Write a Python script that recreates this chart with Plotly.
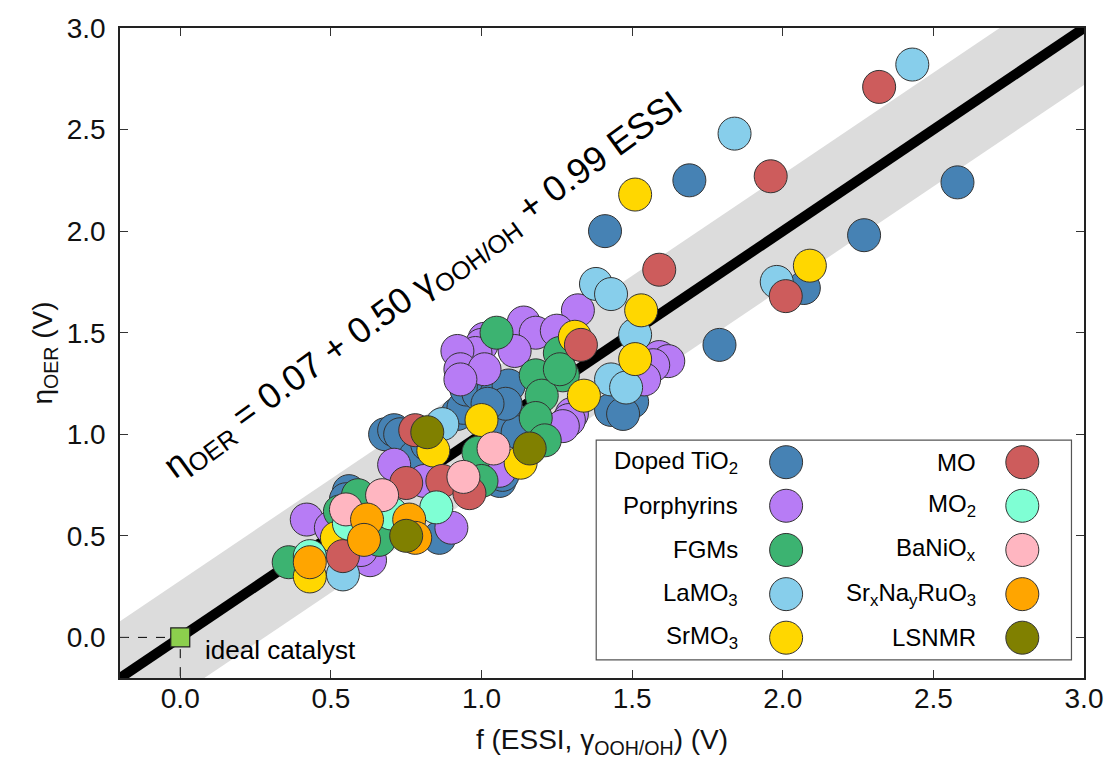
import plotly.graph_objects as go

# ---------------- data ----------------
categories = ["Doped TiO<sub>2</sub>", "Porphyrins", "FGMs", "LaMO<sub>3</sub>", "SrMO<sub>3</sub>",
              "MO", "MO<sub>2</sub>", "BaNiO<sub>x</sub>", "Sr<sub>x</sub>Na<sub>y</sub>RuO<sub>3</sub>", "LSNMR"]
colors = ["#4682B4", "#B77CF5", "#3CB371", "#87CEEB", "#FFD700",
          "#CD5C5C", "#7FFFD4", "#FFB6C1", "#FFA500", "#808000"]

doped_x = [2.58, 1.69, 1.41, 2.27, 2.07, 1.79, 1.43, 1.50, 1.47, 0.68, 0.71, 0.73, 0.92, 0.94, 0.95, 0.99,
           1.04, 1.05, 1.09, 1.10, 1.09, 1.12, 1.08, 1.02, 0.78, 1.06, 1.07, 0.56, 0.55, 0.86, 0.82]
doped_y = [2.24, 2.25, 2.00, 1.98, 1.72, 1.44, 1.12, 1.16, 1.10, 1.00, 1.02, 1.00, 1.10, 1.13, 1.22, 1.20,
           1.22, 1.20, 1.24, 1.08, 1.04, 1.01, 1.15, 1.15, 0.89, 0.77, 0.80, 0.72, 0.68, 0.49, 0.95]

porph_x = [1.32, 1.14, 1.18, 1.25, 1.01, 1.00, 0.98, 0.92, 1.11, 0.93, 1.01, 1.59, 1.62, 1.57, 1.54,
           1.30, 1.29, 1.27, 0.93, 0.71, 0.81, 1.06, 0.42, 0.50, 0.63, 0.90, 0.60]
porph_y = [1.61, 1.55, 1.50, 1.51, 1.47, 1.44, 1.40, 1.41, 1.41, 1.32, 1.32, 1.38, 1.36, 1.34, 1.27,
           1.10, 1.07, 1.04, 1.27, 0.85, 0.77, 0.82, 0.58, 0.54, 0.38, 0.54, 0.43]

fgm_x = [1.05, 1.26, 1.18, 1.27, 1.20, 1.18, 1.21, 1.26, 0.99, 1.00, 0.36, 0.59, 0.66, 0.53]
fgm_y = [1.50, 1.40, 1.29, 1.29, 1.19, 1.08, 0.97, 1.32, 0.91, 0.77, 0.37, 0.70, 0.48, 0.62]

lamo_x = [2.43, 1.84, 1.98, 1.38, 1.43, 1.51, 1.43, 1.48, 0.87, 0.54]
lamo_y = [2.82, 2.48, 1.75, 1.74, 1.69, 1.49, 1.27, 1.23, 1.05, 0.31]

srmo_x = [1.51, 2.09, 1.53, 1.31, 1.51, 1.34, 1.00, 0.84, 1.13, 0.43, 0.52]
srmo_y = [2.18, 1.83, 1.61, 1.48, 1.37, 1.19, 1.07, 0.92, 0.86, 0.30, 0.49]

mo_x = [2.32, 1.96, 1.59, 2.01, 1.33, 0.78, 0.75, 0.87, 0.96, 0.54]
mo_y = [2.71, 2.27, 1.81, 1.68, 1.44, 1.02, 0.76, 0.77, 0.71, 0.40]

mo2_x = [0.43, 0.56, 0.70, 0.85]
mo2_y = [0.40, 0.56, 0.61, 0.64]

bani_x = [0.55, 0.67, 0.94, 1.04]
bani_y = [0.63, 0.70, 0.79, 0.93]

srna_x = [0.43, 0.62, 0.61, 0.76, 0.78]
srna_y = [0.37, 0.58, 0.48, 0.58, 0.49]

lsnmr_x = [0.82, 1.16, 0.75]
lsnmr_y = [1.01, 0.93, 0.50]

series_x = [doped_x, porph_x, fgm_x, lamo_x, srmo_x, mo_x, mo2_x, bani_x, srna_x, lsnmr_x]
series_y = [doped_y, porph_y, fgm_y, lamo_y, srmo_y, mo_y, mo2_y, bani_y, srna_y, lsnmr_y]

band_halfwidth = 0.28
axis_range = [-0.2, 3.0]
tick_vals = [0.0, 0.5, 1.0, 1.5, 2.0, 2.5, 3.0]
tick_text = ["0.0", "0.5", "1.0", "1.5", "2.0", "2.5", "3.0"]

FONT = "Liberation Sans, Arial, sans-serif"

fig = go.Figure()

# grey band
bx = [-0.6, 3.6, 3.6, -0.6, -0.6]
by = [-0.6 + band_halfwidth, 3.6 + band_halfwidth, 3.6 - band_halfwidth, -0.6 - band_halfwidth,
      -0.6 + band_halfwidth]
fig.add_trace(go.Scatter(x=bx, y=by, fill="toself", fillcolor="#DCDCDC", mode="none",
                         hoverinfo="skip", showlegend=False))

# dashed guide lines to ideal catalyst
fig.add_trace(go.Scatter(x=[-0.2, 0.0, 0.0], y=[0.0, 0.0, -0.2], mode="lines",
                         line=dict(color="black", width=1, dash="dash"), showlegend=False))

# parity line
fig.add_trace(go.Scatter(x=[-0.25, 3.05], y=[-0.25, 3.05], mode="lines",
                         line=dict(color="black", width=10), showlegend=False))

# data points
for name, col, xs, ys in zip(categories, colors, series_x, series_y):
    fig.add_trace(go.Scatter(x=xs, y=ys, mode="markers", name=name,
                             marker=dict(size=33, color=col, line=dict(color="#333333", width=1)),
                             showlegend=False))

# ideal catalyst
fig.add_trace(go.Scatter(x=[0.0], y=[0.0], mode="markers",
                         marker=dict(symbol="square", size=19, color="#8CCF4D",
                                     line=dict(color="#222222", width=1.2)),
                         showlegend=False))
fig.add_annotation(x=0.075, y=-0.06, text="ideal catalyst", showarrow=False, xanchor="left",
                   yanchor="middle", font=dict(family=FONT, size=26, color="black"))

# equation
fig.add_annotation(x=0.81, y=1.73, text="η<sub>OER</sub> = 0.07 + 0.50 γ<sub>OOH/OH</sub> + 0.99 ESSI",
                   showarrow=False, textangle=-36, font=dict(family=FONT, size=36, color="black"))

# custom legend (markers to the right of labels)
leg_fx = [0.691] * 5 + [0.936] * 5
leg_fy = [0.332, 0.265, 0.197, 0.129, 0.062] * 2
leg_tx = [0.643] * 5 + [0.890] * 5
fig.add_shape(type="rect", xref="paper", yref="paper", x0=0.494, x1=0.987, y0=0.028, y1=0.366,
              line=dict(color="#555555", width=1.2), fillcolor="rgba(0,0,0,0)", layer="above")
fig.add_trace(go.Scatter(x=leg_fx, y=leg_fy, xaxis="x2", yaxis="y2", mode="markers",
                         marker=dict(size=33, color=colors, line=dict(color="#333333", width=1)),
                         showlegend=False, hoverinfo="skip"))
for name, tx, ty in zip(categories, leg_tx, leg_fy):
    fig.add_annotation(x=tx, y=ty, xref="paper", yref="paper", text=name, showarrow=False,
                       xanchor="right", yanchor="middle",
                       font=dict(family=FONT, size=24, color="black"))

axis_common = dict(range=axis_range, tickvals=tick_vals, ticktext=tick_text, ticks="inside",
                   ticklen=8, tickwidth=1, tickcolor="#333333", showgrid=False, zeroline=False,
                   showline=True, linecolor="#222222", linewidth=1.5, mirror="ticks",
                   tickfont=dict(family=FONT, size=28, color="#111111"))

fig.update_layout(
    width=1115, height=765,
    margin=dict(l=120, r=25, t=28, b=87),
    plot_bgcolor="white", paper_bgcolor="white",
    showlegend=False,
    xaxis=dict(**axis_common, ticklabelstandoff=-5,
               title=dict(text="f (ESSI, γ<sub>OOH/OH</sub>) (V)", standoff=16,
                          font=dict(family=FONT, size=28, color="#111111"))),
    yaxis=dict(**axis_common, ticklabelstandoff=7,
               title=dict(text="η<sub>OER</sub> (V)", standoff=6,
                          font=dict(family=FONT, size=28, color="#111111"))),
    xaxis2=dict(range=[0, 1], overlaying="x", visible=False, fixedrange=True),
    yaxis2=dict(range=[0, 1], overlaying="y", visible=False, fixedrange=True),
)

fig.write_html("out.html")
